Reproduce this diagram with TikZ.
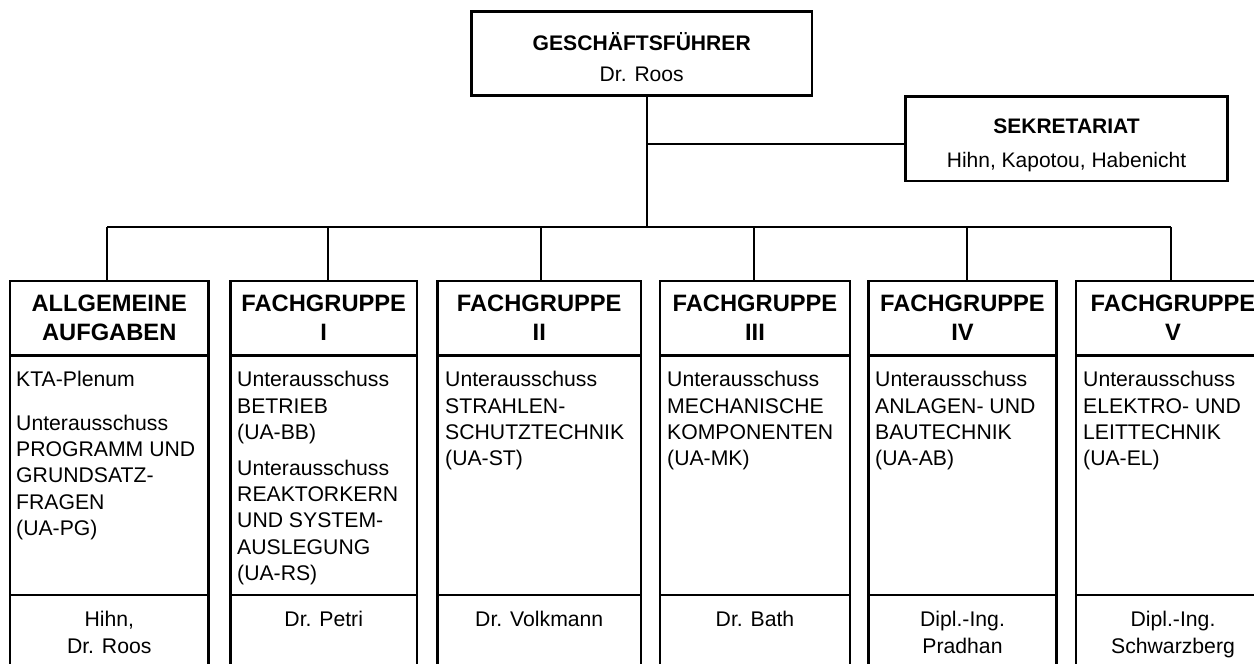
\documentclass[tikz,border=0pt]{standalone}
\usepackage{fontspec}
\setmainfont{Liberation Sans}
\begin{document}
\begin{tikzpicture}[x=1pt,y=-1pt,
  box/.style={draw, line width=2.8pt, rectangle, inner sep=0pt, outer sep=0pt},
  conn/.style={line width=1.6pt},
  divider/.style={line width=2.8pt},
  topt/.style={font=\fontsize{21.1}{31.7}\selectfont, align=center, anchor=base, inner sep=0pt},
  sekt/.style={font=\fontsize{21}{34.4}\selectfont, align=center, anchor=base, inner sep=0pt},
  hd/.style={font=\fontsize{23.7}{28.3}\selectfont\bfseries, align=center, anchor=base, inner sep=0pt},
  bd/.style={font=\fontsize{21.2}{26.4}\selectfont, align=left, anchor=base west, inner sep=0pt},
  ft/.style={font=\fontsize{21.2}{27.3}\selectfont, align=center, anchor=base, inner sep=0pt}]
\clip (0,0) rectangle (1254,664);
\fill[white] (0,0) rectangle (1254,664);
% top boxes (anchor base = baseline of the last line)
\node[box, minimum width=340.5pt, minimum height=83.8pt] (gf) at (641.75,53.6) {};
\node[topt] (gft) at (641.75,81.7) {\textbf{GESCHÄFTSFÜHRER}\\Dr. Roos};
\node[box, minimum width=322pt, minimum height=84.3pt] (sek) at (1066.5,138.8) {};
\node[sekt] (sekt1) at (1066.5,167.7) {\textbf{SEKRETARIAT}\\Hihn, Kapotou, Habenicht};
% columns
\node[box, minimum width=198.5pt, minimum height=419pt] (c1) at (109.25,490.5) {};
\node[box, minimum width=186.5pt, minimum height=419pt] (c2) at (323.75,490.5) {};
\node[box, minimum width=203.5pt, minimum height=419pt] (c3) at (539.25,490.5) {};
\node[box, minimum width=190pt, minimum height=419pt] (c4) at (755,490.5) {};
\node[box, minimum width=188pt, minimum height=419pt] (c5) at (962.5,490.5) {};
\node[box, minimum width=194pt, minimum height=419pt] (c6) at (1173,490.5) {};
% dividers
\coordinate (hline) at (0,355.3);
\coordinate (fline) at (0,595);
\foreach \c in {c1,c2,c3,c4,c5,c6}{
  \draw[divider] (\c.west |- hline) -- (\c.east |- hline);
  \draw[divider] (\c.west |- fline) -- (\c.east |- fline);
}
% connectors
\coordinate (trunk) at (647,227);
\coordinate (sj) at (647,144);
\coordinate (b1) at (107,227);
\coordinate (b2) at (328,227);
\coordinate (b3) at (541,227);
\coordinate (b4) at (754,227);
\coordinate (b5) at (967,227);
\coordinate (b6) at (1171,227);
\draw[conn] (gf.south -| trunk) -- (trunk);
\draw[conn] (sj) -- (sj -| sek.west);
\draw[conn] (b1) -- (b6);
\draw[conn] (b1) -- (b1 |- c1.north);
\draw[conn] (b2) -- (b2 |- c2.north);
\draw[conn] (b3) -- (b3 |- c3.north);
\draw[conn] (b4) -- (b4 |- c4.north);
\draw[conn] (b5) -- (b5 |- c5.north);
\draw[conn] (b6) -- (b6 |- c6.north);
% headers
\node[hd] (h1) at (109.25,340) {ALLGEMEINE\\AUFGABEN};
\node[hd] (h2) at (323.75,340) {FACHGRUPPE\\I};
\node[hd] (h3) at (539.25,340) {FACHGRUPPE\\II};
\node[hd] (h4) at (755,340) {FACHGRUPPE\\III};
\node[hd] (h5) at (962.5,340) {FACHGRUPPE\\IV};
\node[hd] (h6) at (1173,340) {FACHGRUPPE\\V};
% bodies
\node[bd] (t1a) at (16,386.7) {KTA-Plenum};
\node[bd] (t1b) at (16,535.6) {Unterausschuss\\PROGRAMM UND\\GRUNDSATZ-\\FRAGEN\\(UA-PG)};
\node[bd] (t2a) at (237,439.5) {Unterausschuss\\BETRIEB\\(UA-BB)};
\node[bd] (t2b) at (237,580.6) {Unterausschuss\\REAKTORKERN\\UND SYSTEM-\\AUSLEGUNG\\(UA-RS)};
\node[bd] (t3) at (445,465.9) {Unterausschuss\\STRAHLEN-\\SCHUTZTECHNIK\\(UA-ST)};
\node[bd] (t4) at (667,465.9) {Unterausschuss\\MECHANISCHE\\KOMPONENTEN\\(UA-MK)};
\node[bd] (t5) at (875,465.9) {Unterausschuss\\ANLAGEN- UND\\BAUTECHNIK\\(UA-AB)};
\node[bd] (t6) at (1083,465.9) {Unterausschuss\\ELEKTRO- UND\\LEITTECHNIK\\(UA-EL)};
% footers
\node[ft] (f1) at (109.25,653.3) {Hihn,\\Dr. Roos};
\node[ft] (f2) at (323.75,626) {Dr. Petri};
\node[ft] (f3) at (539.25,626) {Dr. Volkmann};
\node[ft] (f4) at (755,626) {Dr. Bath};
\node[ft] (f5) at (962.5,653.3) {Dipl.-Ing.\\Pradhan};
\node[ft] (f6) at (1173,653.3) {Dipl.-Ing.\\Schwarzberg};
\end{tikzpicture}
\end{document}
